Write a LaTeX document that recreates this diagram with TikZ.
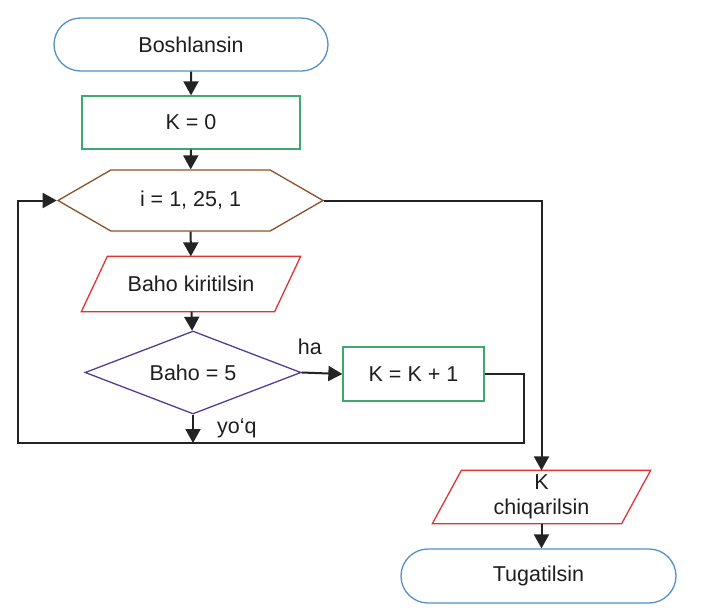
\documentclass[tikz,border=0pt]{standalone}
\usepackage{fontspec}
\setmainfont{Liberation Sans}
\usetikzlibrary{shapes.geometric,shapes.misc,shapes.symbols,arrows.meta}

\definecolor{termblue}{RGB}{80,145,200}
\definecolor{procgreen}{RGB}{60,170,110}
\definecolor{loopbrown}{RGB}{140,80,40}
\definecolor{iored}{RGB}{222,52,52}
\definecolor{condpurple}{RGB}{85,60,150}
\definecolor{linegray}{RGB}{35,35,35}
\definecolor{txtgray}{RGB}{30,30,30}

\tikzset{
  base/.style={draw, line width=1.3pt, inner sep=0pt, text=txtgray,
    font=\fontsize{21.5}{25}\selectfont},
  term/.style={base, draw=termblue, rounded rectangle,
    minimum width=274pt, minimum height=53pt},
  proc/.style={base, draw=procgreen, rectangle},
  hexa/.style={base, draw=loopbrown, signal, signal to=west and east,
    signal pointer angle=60, minimum width=265pt, minimum height=61pt},
  % parallelogram outline drawn over a plain box
  io/.style={base, draw=none, rectangle, align=center,
    append after command={\pgfextra{
      \draw[iored, line width=1.3pt] ([xshift=#1]\tikzlastnode.north west)
        -- (\tikzlastnode.north east) -- ([xshift=-#1]\tikzlastnode.south east)
        -- (\tikzlastnode.south west) -- cycle;}}},
  cond/.style={base, draw=condpurple, diamond, aspect=2.6,
    minimum width=216pt, minimum height=83pt},
  lbl/.style={inner sep=0pt, text=txtgray, font=\fontsize{21.5}{25}\selectfont},
  line/.style={draw=linegray, line width=2pt},
  arr/.style={line, -{Triangle[length=14pt,width=15pt]}},
}

\begin{document}
\begin{tikzpicture}[x=1pt,y=-1pt]
    \useasboundingbox (0,0) rectangle (702,614);

    % blocks
    \node[term] (start) at (191,44.5) {Boshlansin};
    \node[proc, minimum width=218pt, minimum height=53pt] (kzero) at (191,122.5) {K = 0};
    \node[hexa] (loop) at (190.5,200.5) {i = 1, 25, 1};
    \node[io=26pt, minimum width=218pt, minimum height=54pt] (input) at (191,284) {Baho kiritilsin};
    \node[cond] (check) at (193,372.5) {Baho = 5};
    \node[proc, minimum width=141pt, minimum height=54pt] (inc) at (413.5,374) {K = K + 1};
    \node[io=29pt, minimum width=217pt, minimum height=52pt] (output) at (541.5,497) {K\\chiqarilsin};
    \node[term, minimum width=275pt, minimum height=54pt] (stop) at (538.5,576) {Tugatilsin};

    \coordinate (bl) at (18,443);
    \coordinate (br) at (524,443);

    % connectors
    \draw[arr] (start) -- (kzero);
    \draw[arr] (kzero) -- (loop);
    \draw[arr] (loop) -- (input);
    \draw[arr] (input) -- (check);
    \draw[arr] (check.east) -- (inc.west);
    \draw[arr] (check.south) -- (check.south |- bl);
    \draw[arr] (inc.east) -| (br) -- (bl) |- (loop.west);
    \draw[arr] (loop.east) -| (output.north);
    \draw[arr] (output.south) -- (output.south |- stop.north);

    \node[lbl, anchor=base west] (ha) at ([shift={(-4,-18)}]check.east) {ha};
    \node[lbl, anchor=base west] (no) at ([shift={(24,19)}]check.south) {yo‘q};
\end{tikzpicture}
\end{document}
